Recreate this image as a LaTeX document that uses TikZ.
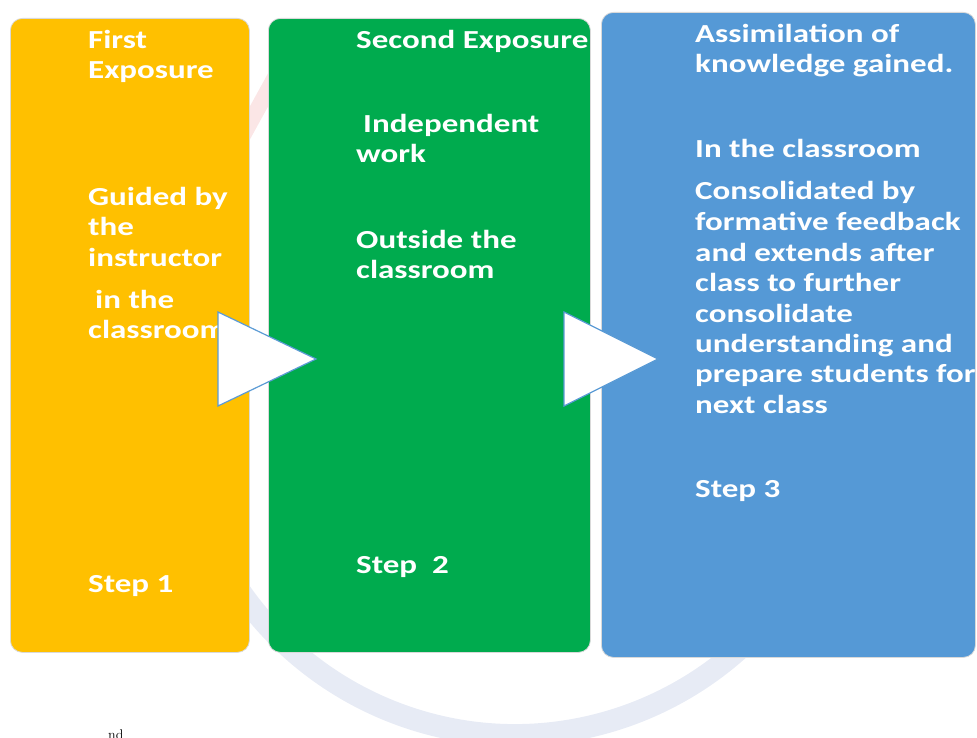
\documentclass[tikz,border=0pt]{standalone}
\usepackage{fontspec}
\newfontfamily\boxfont{Carlito}[FakeStretch=1.27]
\definecolor{cardyellow}{HTML}{FFC000}
\definecolor{cardgreen}{HTML}{00AB4E}
\definecolor{cardblue}{HTML}{5599D6}
\definecolor{arrowedge}{HTML}{5B9BD5}
\definecolor{markblue}{HTML}{E7EBF5}
\definecolor{markred}{HTML}{FBE6E6}
\tikzset{
  card/.style={rounded corners=12pt, draw=black!15, line width=0.8pt, inner sep=0pt, anchor=north west},
  lbl/.style={anchor=base west, text=white, inner sep=0pt,
    font=\boxfont\bfseries\fontsize{26}{30}\selectfont},
  pointer/.style={fill=white, draw=arrowedge, line width=1.2pt, line join=miter},
}
\begin{document}
\begin{tikzpicture}[x=1pt, y=-1pt]
\useasboundingbox (0,0) rectangle (977,738);

% faint background emblem
\draw[markblue, line width=22pt] (515,400) ++(22:335) arc[start angle=22, end angle=158, radius=335];
\draw[markred, line width=16pt, line cap=round] (235,150) -- (290,50);

% the three step cards
\node[card, fill=cardyellow, minimum width=239pt, minimum height=634pt] (s1) at (10,18) {};
\node[card, fill=cardgreen, minimum width=322pt, minimum height=634pt] (s2) at (268,18) {};
\node[card, fill=cardblue, minimum width=374pt, minimum height=645pt] (s3) at (601,12) {};

% step 1
\node[lbl] (a1) at (88,49) {First};
\node[lbl] (a2) at (88,79) {Exposure};
\node[lbl] (a3) at (88,206) {Guided by};
\node[lbl] (a4) at (88,236) {the};
\node[lbl] (a5) at (88,266) {instructor};
\node[lbl] (a6) at (95,308) {in the};
\node[lbl] (a7) at (88,338) {classroom};
\node[lbl] (a8) at (88,592) {Step 1};

% step 2
\node[lbl] (b1) at (356,49) {Second Exposure};
\node[lbl] (b2) at (363,133) {Independent};
\node[lbl] (b3) at (356,163) {work};
\node[lbl] (b4) at (356,248) {Outside the};
\node[lbl] (b5) at (356,278) {classroom};
\node[lbl] (b6) at (356,573) {Step\ \ 2};

% step 3
\node[lbl] (c1) at (695,43) {Assimilation of};
\node[lbl] (c2) at (695,73) {knowledge gained.};
\node[lbl] (c3) at (695,158) {In the classroom};
\node[lbl] (c4) at (695,200) {Consolidated by};
\node[lbl] (c5) at (695,230) {formative feedback};
\node[lbl] (c6) at (695,261) {and extends after};
\node[lbl] (c7) at (695,291) {class to further};
\node[lbl] (c8) at (695,322) {consolidate};
\node[lbl] (c9) at (695,352) {understanding and};
\node[lbl] (c10) at (695,382) {prepare students for};
\node[lbl] (c11) at (695,413) {next class};
\node[lbl] (c12) at (695,497) {Step 3};

% arrows between the cards
\coordinate (p1) at (218,312);
\coordinate (q1) at (316,359);
\coordinate (r1) at (218,406);
\draw[pointer] (p1) -- (q1) -- (r1) -- cycle;
\coordinate (p2) at (564,312);
\coordinate (q2) at (658,359);
\coordinate (r2) at (564,406);
\draw[pointer] (p2) -- (q2) -- (r2) -- cycle;

% text running on below
\node[anchor=north west, inner sep=0pt, font=\fontsize{14}{16}\selectfont] (nd) at (108,730) {nd};
\end{tikzpicture}
\end{document}
